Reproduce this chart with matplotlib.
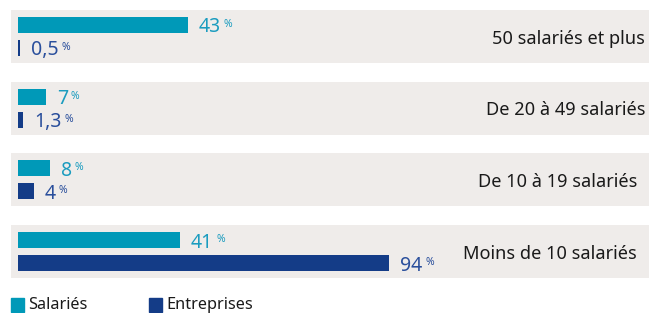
import matplotlib
matplotlib.use("Agg")
import matplotlib.pyplot as plt
from matplotlib.patches import Rectangle

categories = ["50 salariés et plus", "De 20 à 49 salariés", "De 10 à 19 salariés", "Moins de 10 salariés"]
salaries = [43, 7, 8, 41]
entreprises = [0.5, 1.3, 4, 94]
salaries_labels = ["43", "7", "8", "41"]
entreprises_labels = ["0,5", "1,3", "4", "94"]
legend_labels = ["Salariés", "Entreprises"]

C_SAL = "#0099b8"
C_ENT = "#143c87"
C_SAL_TXT = "#1b9cbf"
C_ENT_TXT = "#2a4f9c"
C_PANEL = "#efecea"
C_TXT = "#1a1a1a"
FONT = "Noto Sans"

W, H = 649, 313
fig = plt.figure(figsize=(W / 100, H / 100), dpi=100)
ax = fig.add_axes([0, 0, 1, 1])
ax.axis("off")

PXU = 3.95      # pixels per percent
X0 = 18         # pixel of zero
GAP = 71.67     # pixels between groups
Y0 = 36.5       # pixel centre of first group
ax.set_xlim(-X0 / PXU, (W - X0) / PXU)
ax.set_ylim((H - Y0) / GAP, -Y0 / GAP)

pos = list(range(len(categories)))
panel_left = (11 - X0) / PXU
ax.barh(pos, [200] * len(pos), left=panel_left, height=53 / GAP, color=C_PANEL, zorder=0)

off = 11.5 / GAP
bh = 16 / GAP
ax.barh([p - off for p in pos], salaries, height=bh, color=C_SAL, zorder=2)
ax.barh([p + off for p in pos], entreprises, height=bh, color=C_ENT, zorder=2)

def value_label(x, y, s, color):
    t = ax.annotate(s, xy=(x, y), xytext=(8, 0), textcoords="offset points",
                    ha="left", va="center_baseline", fontsize=14, color=color,
                    family=FONT, zorder=3)
    ax.annotate("%", xy=(1, 0.93), xycoords=t, xytext=(2, 0), textcoords="offset points",
                ha="left", va="top", fontsize=7.5, color=color, family=FONT, zorder=3)

for p, v, s in zip(pos, salaries, salaries_labels):
    value_label(v, p - off, s, C_SAL_TXT)
for p, v, s in zip(pos, entreprises, entreprises_labels):
    value_label(v, p + off, s, C_ENT_TXT)

right_pad = [4, 4, 12, 12]
for p, c, rp in zip(pos, categories, right_pad):
    ax.annotate(c, xy=((W - X0) / PXU, p), xytext=(-rp * 0.72, 0), textcoords="offset points",
                ha="right", va="center_baseline", fontsize=13.1, color=C_TXT, family=FONT)

# legend
leg_x = [11, 149]
for lx, lab, col in zip(leg_x, legend_labels, [C_SAL, C_ENT]):
    fig.patches.append(Rectangle((lx / W, 1 - 312 / H), 13 / W, 14 / H, transform=fig.transFigure,
                                 color=col, zorder=5))
    fig.text((lx + 17) / W, 1 - 309 / H, lab, ha="left", va="baseline", fontsize=11.7,
             color=C_TXT, family=FONT)

fig.savefig("out.png", dpi=100)
